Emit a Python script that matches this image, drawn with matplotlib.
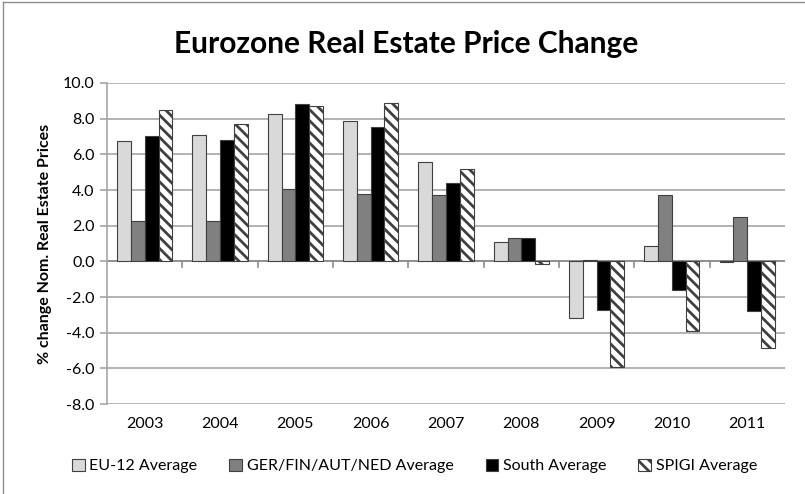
import matplotlib
matplotlib.use("Agg")
import matplotlib.pyplot as plt
import numpy as np
from matplotlib.lines import Line2D

years = ["2003", "2004", "2005", "2006", "2007", "2008", "2009", "2010", "2011"]
eu12 = [6.76, 7.1, 8.28, 7.87, 5.55, 1.08, -3.18, 0.86, -0.05]
gfan = [2.25, 2.25, 4.03, 3.76, 3.7, 1.3, 0.08, 3.72, 2.48]
south = [7.05, 6.83, 8.84, 7.51, 4.37, 1.3, -2.7, -1.58, -2.8]
spigi = [8.5, 7.72, 8.73, 8.9, 5.2, -0.12, -5.9, -3.9, -4.88]
series_names = ["EU-12 Average", "GER/FIN/AUT/NED Average", "South Average", "SPIGI Average"]
yticks = [-8, -6, -4, -2, 0, 2, 4, 6, 8, 10]

plt.rcParams['font.family'] = ['Lato', 'DejaVu Sans']
plt.rcParams['hatch.linewidth'] = 2.0
plt.rcParams['hatch.color'] = 'black'

fig = plt.figure(figsize=(8.05, 4.94), dpi=100)
ax = fig.add_axes([0.133, 0.182, 0.842, 0.65])

x = np.arange(len(years))
w = 0.183
edge = '#404040'
ax.bar(x - 1.5 * w, eu12, w, color='#d9d9d9', edgecolor=edge, linewidth=0.8, label=series_names[0], zorder=3)
ax.bar(x - 0.5 * w, gfan, w, color='#808080', edgecolor=edge, linewidth=0.8, label=series_names[1], zorder=3)
ax.bar(x + 0.5 * w, south, w, color='#000000', edgecolor=edge, linewidth=0.8, label=series_names[2], zorder=3)
ax.bar(x + 1.5 * w, spigi, w, color='white', edgecolor=edge, hatch='\\\\\\', linewidth=0.8, label=series_names[3], zorder=3)

ax.set_xlim(-0.5, len(years) - 0.5)
ax.set_ylim(-8, 10)
ax.set_yticks(yticks)
ax.set_yticklabels([f"{v:.1f}" for v in yticks], fontsize=11.5)
ax.set_xticks(x)
ax.set_xticklabels(years, fontsize=11.5)
ax.tick_params(axis='x', length=0, pad=9)
ax.tick_params(axis='y', length=5, width=1.2, color='#a6a6a6', pad=4)
ax.grid(axis='y', color='#a6a6a6', linewidth=1.2, zorder=0)
for s in ['top', 'right', 'bottom']:
    ax.spines[s].set_visible(False)
ax.spines['left'].set_color('#a6a6a6')
ax.spines['left'].set_linewidth(1.2)
ax.axhline(0, color='#8c8c8c', linewidth=1.2, zorder=2)
for b in np.arange(0.5, len(years) - 0.5, 1.0):
    ax.plot([b, b], [0, -0.3], color='#8c8c8c', linewidth=1.2, zorder=2, clip_on=False)

ax.set_ylabel('% change Nom. Real Estate Prices', fontsize=11.5, fontweight='bold', labelpad=8)
fig.text(0.505, 0.91, 'Eurozone Real Estate Price Change', ha='center', va='center',
         fontsize=21.5, fontweight='bold')

leg = fig.legend(loc='center', bbox_to_anchor=(0.515, 0.057), ncol=4, frameon=False,
                 fontsize=11.5, handlelength=0.8, handleheight=0.8, handletextpad=0.3,
                 columnspacing=2.0)
for h in leg.legend_handles:
    h.set_linewidth(0.8)

fig.add_artist(Line2D([0.004, 0.004], [0, 0.996], transform=fig.transFigure, color='#8c8c8c', linewidth=1))
fig.add_artist(Line2D([0.004, 1], [0.996, 0.996], transform=fig.transFigure, color='#8c8c8c', linewidth=1))

fig.savefig('out.png', dpi=100)
